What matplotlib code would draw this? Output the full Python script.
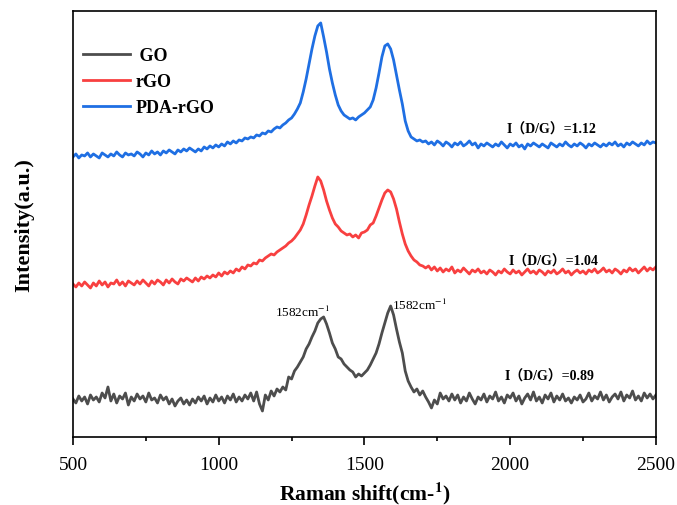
import numpy as np
import matplotlib.pyplot as plt

plt.rcParams['font.family'] = ['Liberation Serif', 'Noto Sans CJK SC']
plt.rcParams['mathtext.fontset'] = 'stix'

# Desplazamiento Raman (cm-1), un punto cada 10 cm-1
raman_shift = np.arange(500, 2501, 10)

# Intensidades (u.a.) de cada muestra, ya desplazadas verticalmente
go = [38, 34, 41, 36, 40, 33, 42, 37, 40, 35, 44, 39, 50, 36, 43, 34, 41, 38, 44, 32, 40,
      36, 43, 38, 41, 35, 44, 37, 39, 34, 42, 37, 40, 33, 38, 31, 36, 39, 33, 37, 32,
      38, 34, 40, 36, 41, 33, 39, 35, 42, 36, 40, 34, 41, 37, 43, 35, 40, 36, 42, 38,
      44, 36, 45, 33, 26, 42, 37, 46, 41, 48, 45, 50, 47, 60, 58, 66, 70, 75, 80, 88,
      93, 100, 106, 114, 118, 120, 113, 104, 94, 88, 80, 78, 73, 70, 67, 65, 60, 63, 61, 64,
      67, 72, 78, 84, 93, 104, 114, 124, 131, 122, 108, 95, 84, 66, 56, 50, 45, 48, 42, 46,
      40, 35, 29, 37, 33, 44, 38, 41, 36, 43,
      37, 42, 34, 40, 36, 44, 38, 33, 40, 37,
      43, 35, 41, 38, 45, 36, 40, 34, 42, 39,
      44, 36, 41, 33, 39, 43, 37, 45, 36, 40,
      34, 42, 38, 44, 35, 41, 37, 43, 36, 39,
      34, 40, 37, 42, 35, 38, 44, 36, 41, 38,
      45, 37, 42, 35, 40, 43, 38, 45, 36, 42,
      39, 46, 37, 41, 36, 44, 39, 43, 38, 42]

rgo = [153, 150, 154, 151, 155, 152, 149, 154, 151, 156, 152, 155, 150, 154, 153, 157, 152, 155, 151, 156, 154,
       152, 156, 153, 157, 154, 151, 156, 153, 157, 155, 152, 157, 154, 158, 155, 153, 158, 156, 159, 157,
       155, 159, 156, 160, 158, 161, 159, 162, 160, 164, 161, 165, 163, 166, 164, 168, 166, 170, 168, 172,
       171, 174, 173, 177, 176, 179, 181, 183, 182, 185, 187, 189, 191, 194, 196, 199, 203, 207, 213, 222,
       232, 241, 251, 260, 256, 247, 236, 227, 219, 213, 210, 206, 204, 202, 203, 200, 202, 199, 204, 205,
       207, 212, 214, 221, 229, 237, 244, 247, 245, 238, 228, 215, 203, 193, 186, 181, 177, 175, 172, 171,
       169, 171, 167, 170, 166, 169, 165, 168, 166, 170, 164, 167, 165, 169, 166, 163, 167, 165, 168, 164,
       166, 163, 167, 165, 162, 166, 164, 168, 165, 163, 167, 164, 166, 162, 165, 168, 164, 166, 163, 167,
       165, 162, 166, 164, 167, 163, 165, 168, 164, 166, 162, 165, 167, 164, 166, 163, 167, 165, 168, 164,
       166, 169, 165, 167, 164, 168, 166, 163, 167, 165, 169, 166, 168, 164, 167, 170, 166, 169, 167, 170]

pda_rgo = [280, 283, 279, 282, 281, 284, 280, 283, 281, 279, 284, 282, 280, 283, 281, 285, 282, 280, 284, 282, 283,
           281, 285, 283, 280, 284, 282, 286, 283, 285, 282, 286, 284, 287, 285, 283, 287, 285, 288, 286, 289,
           287, 285, 288, 286, 290, 288, 291, 289, 292, 290, 293, 291, 295, 293, 296, 294, 297, 296, 299, 298,
           300, 299, 302, 301, 304, 303, 306, 305, 308, 310, 309, 312, 314, 317, 319, 323, 328, 334, 345, 358,
           373, 388, 401, 411, 414, 400, 385, 368, 354, 342, 332, 326, 322, 320, 318, 319, 317, 320, 322, 324,
           327, 330, 337, 349, 364, 380, 391, 393, 388, 377, 362, 347, 333, 316, 306, 300, 298, 296, 297, 295,
           296, 293, 295, 292, 296, 294, 291, 295, 293, 290, 294, 292, 295, 291, 293, 296, 292, 294, 289, 293,
           291, 294, 292, 290, 293, 291, 295, 292, 289, 293, 291, 294, 290, 292, 288, 293, 291, 294, 292, 290,
           293, 291, 289, 294, 292, 290, 293, 291, 295, 292, 290, 293, 291, 294, 292, 289, 293, 291, 294, 292,
           290, 293, 291, 294, 292, 295, 291, 293, 290, 294, 292, 295, 293, 291, 294, 292, 296, 293, 295, 294]

labels = [' GO', 'rGO', 'PDA-rGO']
colors = ['#4D4D4D', '#F84040', '#1F6FE3']
ratios = ['I（D/G）=0.89', 'I（D/G）=1.04', 'I（D/G）=1.12']
ratio_pos = [(2136, 61), (2147, 176), (2143, 308)]

fig = plt.figure(figsize=(6.77, 5.06), dpi=100)
ax = fig.add_axes([0.1078, 0.1344, 0.861, 0.842])

for y, lab, c in zip([go, rgo, pda_rgo], labels, colors):
    ax.plot(raman_shift, y, color=c, lw=2.0, label=lab)

# Relaciones I(D/G) junto a cada espectro
for txt, (x, y) in zip(ratios, ratio_pos):
    ax.text(x, y, txt, ha='center', va='center', fontsize=10, fontweight='bold')

# Etiquetas de los picos del GO
ax.text(1289, 126, '1582cm$^{-1}$', ha='center', va='center', fontsize=9.5)
ax.text(1690, 133, '1582cm$^{-1}$', ha='center', va='center', fontsize=9.5)

ax.set_xlim(500, 2500)
ax.set_ylim(0, 426)
ax.set_xticks([500, 1000, 1500, 2000, 2500])
ax.set_xticks([750, 1250, 1750, 2250], minor=True)
ax.set_yticks([])
ax.tick_params(axis='x', which='major', direction='out', length=5.5, width=1.2, labelsize=14, pad=8)
ax.tick_params(axis='x', which='minor', direction='out', length=3, width=1.2)
for s in ax.spines.values():
    s.set_linewidth(1.2)

ax.set_xlabel('Raman shift(cm-$^{\\mathbf{1}}$)', fontsize=15.5, fontweight='bold', labelpad=4)
ax.set_ylabel('Intensity(a.u.)', fontsize=16, fontweight='bold', labelpad=28)

ax.legend(loc='upper left', bbox_to_anchor=(0.017, 0.915), frameon=False,
          prop={'weight': 'bold', 'size': 13}, handlelength=2.6, handletextpad=0.3,
          labelspacing=0.5, borderpad=0, borderaxespad=0)

plt.savefig('out.png', dpi=100)
